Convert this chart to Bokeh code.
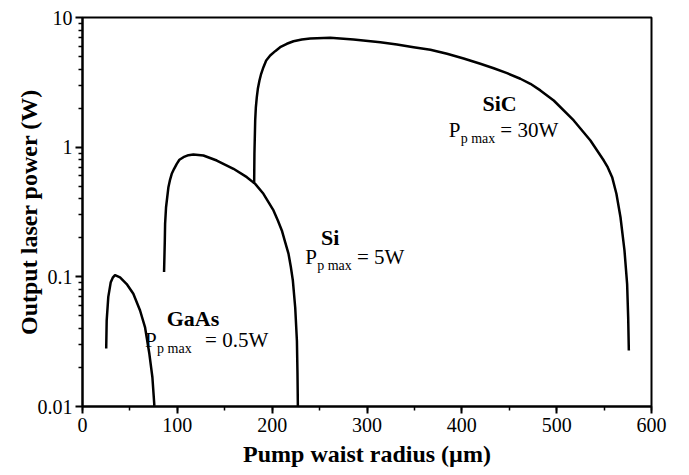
from bokeh.plotting import figure
from bokeh.models import Label, FixedTicker, CustomJSTickFormatter, Range1d, SingleIntervalTicker
from bokeh.embed import file_html
from bokeh.resources import INLINE

# ---- data ----
gaas_x = [25.0, 25.5, 27.2, 29.8, 31.9, 34.3, 39.6, 46.6, 53.6, 60.7, 65.9, 70.5, 73.7, 75.8]
gaas_y = [0.028, 0.046, 0.070, 0.091, 0.0985, 0.103, 0.099, 0.088, 0.074, 0.055, 0.041, 0.0255, 0.0168, 0.0101]

si_x = [86.0, 86.8, 87.1, 88.1, 90.6, 92.3, 94.1, 96.6, 99.4, 102.2, 106.4, 111.7, 116.9, 127.5,
        141.6, 159.2, 173.3, 182.1, 190.8, 196.1, 201.4, 206.0, 210.2, 213.7, 217.2, 219.7, 221.8,
        224.3, 226.1, 226.7, 227.1]
si_y = [0.109, 0.191, 0.256, 0.344, 0.491, 0.560, 0.623, 0.681, 0.744, 0.799, 0.837, 0.867, 0.878, 0.863,
        0.789, 0.681, 0.587, 0.521, 0.437, 0.377, 0.325, 0.272, 0.228, 0.185, 0.151, 0.119, 0.094,
        0.058, 0.032, 0.018, 0.0101]

sic_x = [181.0, 181.3, 182.1, 182.8, 183.8, 184.9, 186.6, 188.4, 190.8, 193.7, 197.9, 203.2, 208.4,
         215.5, 222.5, 231.3, 240.1, 261.2, 285.8, 314.0, 331.6, 349.1, 366.8, 384.4, 401.9, 419.5,
         433.6, 447.7, 461.7, 472.3, 482.8, 496.9, 518.0, 535.6, 549.7, 553.8,
         558.5, 563.0, 567.3, 571.5, 574.3, 575.4, 576.1]
sic_y = [0.521, 0.889, 1.607, 2.03, 2.43, 2.82, 3.27, 3.68, 4.14, 4.66, 5.09, 5.50, 5.90,
         6.27, 6.56, 6.77, 6.89, 6.97, 6.77, 6.45, 6.19, 5.90, 5.64, 5.25, 4.83, 4.40,
         4.06, 3.72, 3.37, 3.08, 2.74, 2.29, 1.607, 1.125, 0.789, 0.701,
         0.587, 0.437, 0.288, 0.160, 0.088, 0.049, 0.027]

names = ["GaAs", "Si", "SiC"]
name_x = [116.5, 261.2, 439.8]
name_y = [0.0475, 0.2022, 2.183]
p_x = [66.0, 234.8, 386.1]
p_y = [0.0323, 0.1417, 1.345]
eq_x = [129.3, 289.4, 440.6]
eq_text = ["= 0.5W", "= 5W", "= 30W"]

y_ticks = [0.01, 0.1, 1, 10]
x_tick_step = 100

FONT = "Liberation Serif"

p = figure(frame_width=569, frame_height=389,
           x_range=Range1d(0, 600), y_range=Range1d(0.01, 10),
           y_axis_type="log", output_backend="svg", toolbar_location=None,
           min_border_left=82, min_border_top=17, min_border_right=30, min_border_bottom=60)

p.background_fill_color = "white"
p.border_fill_color = "white"
p.xgrid.visible = False
p.ygrid.visible = False
p.outline_line_color = "black"
p.outline_line_width = 2
p.outline_line_alpha = 1

for xs, ys in [(gaas_x, gaas_y), (si_x, si_y), (sic_x, sic_y)]:
    p.line(xs, ys, line_color="black", line_width=2.5, line_join="round")

# axes
p.xaxis.ticker = SingleIntervalTicker(interval=x_tick_step, num_minor_ticks=2)
minor = [m * d for d in y_ticks[:-1] for m in range(2, 10)]
p.yaxis.ticker = FixedTicker(ticks=y_ticks, minor_ticks=minor)
p.yaxis.formatter = CustomJSTickFormatter(code="return tick.toString();")

p.axis.axis_line_width = 2
p.axis.axis_line_color = "black"
p.axis.major_tick_line_color = "black"
p.axis.minor_tick_line_color = "black"
p.axis.major_tick_line_width = 2
p.axis.minor_tick_line_width = 1.5
p.axis.major_tick_out = 7
p.axis.major_tick_in = 0
p.axis.minor_tick_out = 4
p.axis.minor_tick_in = 0
p.axis.major_label_text_font = FONT
p.axis.major_label_text_font_size = "20px"
p.axis.major_label_text_color = "black"
p.axis.axis_label_text_font = FONT
p.axis.axis_label_text_font_size = "24px"
p.axis.axis_label_text_font_style = "bold"
p.axis.axis_label_text_color = "black"

p.xaxis.axis_label = "Pump waist radius (\u00b5m)"
p.yaxis.axis_label = "Output laser power (W)"
p.xaxis.major_label_standoff = 4
p.yaxis.major_label_standoff = 3
p.xaxis.axis_label_standoff = 6
p.yaxis.axis_label_standoff = -7

for i in range(len(names)):
    p.add_layout(Label(x=name_x[i], y=name_y[i], text=names[i], text_font=FONT,
                       text_font_size="22px", text_font_style="bold", text_align="center",
                       text_baseline="alphabetic", text_color="black"))
    p.add_layout(Label(x=p_x[i], y=p_y[i], text="P", text_font=FONT,
                       text_font_size="21px", text_align="left",
                       text_baseline="alphabetic", text_color="black"))
    p.add_layout(Label(x=p_x[i], y=p_y[i], x_offset=12, y_offset=-8, text="p max", text_font=FONT,
                       text_font_size="14px", text_align="left",
                       text_baseline="alphabetic", text_color="black"))
    p.add_layout(Label(x=eq_x[i], y=p_y[i], text=eq_text[i], text_font=FONT,
                       text_font_size="21px", text_align="left",
                       text_baseline="alphabetic", text_color="black"))

open("out.html", "w").write(file_html(p, INLINE))
